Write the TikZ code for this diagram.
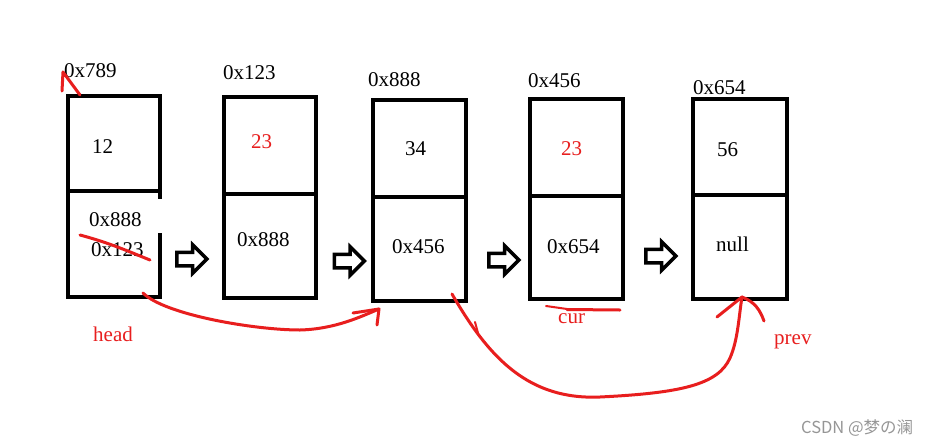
\documentclass[tikz,border=0pt]{standalone}
\usepackage{fontspec}
\setmainfont{Liberation Serif}
\newfontfamily\cjk{Noto Sans CJK SC}
\usetikzlibrary{shapes.arrows}
\definecolor{pen}{RGB}{232,30,30}
\definecolor{wm}{RGB}{150,150,150}
\tikzset{
  cellbox/.style={draw, line width=4pt, inner sep=0pt, outer sep=0pt},
  ghost/.style={inner sep=0pt, outer sep=0pt},
  divider/.style={line width=3.5pt},
  edge/.style={line width=4pt, line cap=rect},
  txt/.style={anchor=base west, inner sep=0pt, font=\fontsize{21}{24}\selectfont},
  rtxt/.style={txt, text=pen},
  blockarrow/.style={single arrow, draw, fill=white, line width=3.5pt, inner sep=5pt,
     minimum height=30pt, single arrow head extend=7.5pt, single arrow tip angle=90},
  redpen/.style={draw=pen, line width=3pt, line cap=round, line join=round},
}
\begin{document}
\begin{tikzpicture}[x=1pt,y=-1pt]
\useasboundingbox[fill=white] (0,0) rectangle (946,445);
% boxes
\node[ghost, minimum width=92pt, minimum height=201pt] (b1) at (114,196.5) {};
\node[cellbox, minimum width=92pt, minimum height=201pt] (b2) at (270,197.5) {};
\node[cellbox, minimum width=93pt, minimum height=201pt] (b3) at (419.5,200.5) {};
\node[cellbox, minimum width=93pt, minimum height=200pt] (b4) at (576.5,199) {};
\node[cellbox, minimum width=94pt, minimum height=200pt] (b5) at (740,199) {};
% box 1 with its gap
\draw[edge] (b1.north east) -- (b1.north west) -- (b1.south west) -- (b1.south east) -- ([yshift=62pt]b1.south east);
\draw[edge] (b1.north east) -- ([yshift=-101pt]b1.north east);
\draw[divider] (68,191) -- (160,191);
\draw[divider] (224,194) -- (316,194);
\draw[divider] (373,197) -- (466,197);
\draw[divider] (530,196) -- (623,196);
\draw[divider] (693,195) -- (787,195);
% addresses
\node[txt] (a1) at (64,77) {0x789};
\node[txt] (a2) at (223,79) {0x123};
\node[txt] (a3) at (368,86) {0x888};
\node[txt] (a4) at (528,87) {0x456};
\node[txt] (a5) at (693,94) {0x654};
% contents
\node[txt] (d1) at (92,153) {12};
\node[txt] (n1a) at (89,226) {0x888};
\node[txt] (n1b) at (91,256) {0x123};
\node[rtxt] (d2) at (251,148) {23};
\node[txt] (n2) at (237,246) {0x888};
\node[txt] (d3) at (405,155) {34};
\node[txt] (n3) at (392,253) {0x456};
\node[rtxt] (d4) at (561,155) {23};
\node[txt] (n4) at (547,253) {0x654};
\node[txt] (d5) at (717,156) {56};
\node[txt] (n5) at (716,251) {null};
% block arrows
\node[blockarrow] (p1) at (188.5,259) {};
\node[blockarrow] (p2) at (346,261) {};
\node[blockarrow] (p3) at (500.5,260) {};
\node[blockarrow] (p4) at (657.5,256) {};
% red labels
\node[rtxt] (head) at (93,341) {head};
\node[rtxt] (cur) at (558,323) {cur};
\node[rtxt] (prev) at (774,344) {prev};
% red strokes
\coordinate (s1) at (80,235);
\coordinate (s2) at (150,260);
\draw[redpen] (s1) .. controls (110,243) and (130,252) .. (s2);
\coordinate (t0) at (80,95);
\coordinate (t1) at (63,72);
\draw[redpen] (t0) -- (t1) -- (62,91);
\coordinate (c0) at (143,293);
\coordinate (c1) at (379,309);
\draw[redpen] (c0) .. controls (165,315) and (255,330) .. (300,330) .. controls (335,329) and (360,317) .. (c1);
\draw[redpen] (353,313) -- (c1) -- (377,325);
\coordinate (u0) at (546,306);
\coordinate (u1) at (620,310);
\draw[redpen, line width=2pt] (u0) -- (567,309);
\draw[redpen] (567,309.5) -- (u1);
\coordinate (e0) at (452,294);
\coordinate (e1) at (742,297);
\draw[redpen] (e0) .. controls (490,360) and (530,400) .. (600,397)
   .. controls (680,393) and (718,385) .. (730,358) .. controls (738,340) and (739,315) .. (e1);
\draw[redpen] (717,317) -- (e1) .. controls (755,302) and (760,310) .. (764,321);
\draw[redpen, line width=2pt] (475,322) -- (478,333);
% watermark
\node[anchor=base west, inner sep=0pt, text=wm, font=\cjk\fontsize{16.5}{18}\selectfont] (wmk) at (801,433) {CSDN @梦の澜};
\end{tikzpicture}
\end{document}
